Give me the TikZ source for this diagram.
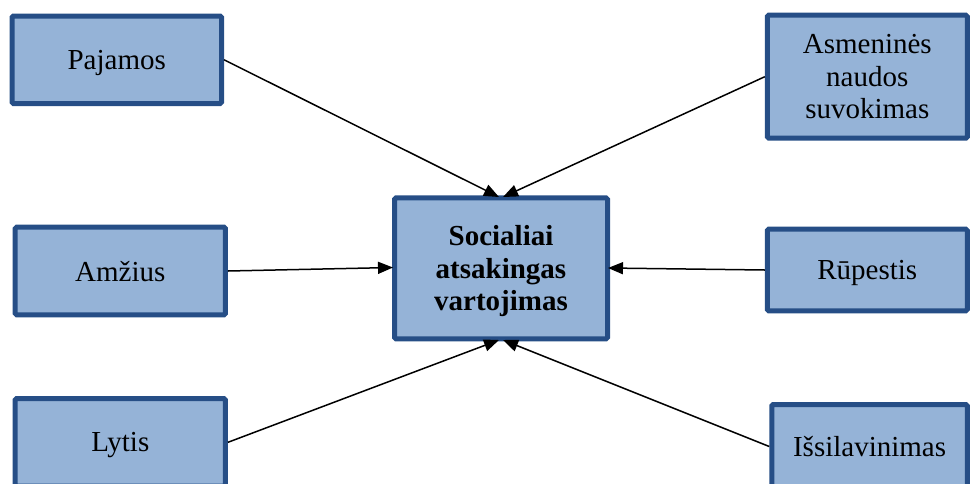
\documentclass[tikz,border=0pt]{standalone}
\usepackage{fontspec}
\setmainfont{Liberation Serif}
\usetikzlibrary{arrows.meta}
\definecolor{boxfill}{HTML}{95B3D7}
\definecolor{boxline}{HTML}{264E86}
\tikzset{
  factor/.style={draw=boxline, fill=boxfill, line width=5pt, rounded corners=1.5pt,
    align=center, inner sep=0pt, text depth=0pt,
    font=\fontsize{29pt}{32.5pt}\selectfont},
  link/.style={line width=1.5pt, -{Triangle[length=15pt,width=12pt]}}
}
\begin{document}
\begin{tikzpicture}[x=1pt, y=-1pt]
  \useasboundingbox (0,0) rectangle (970,483);
  % factor boxes
  \node[factor, minimum width=209.5pt, minimum height=87.5pt] (paj) at (116.75,59.75) {Pajamos};
  \node[factor, minimum width=200pt, minimum height=123pt] (asm) at (867.3,76.7) {Asmeninės\\naudos\\suvokimas};
  \node[factor, minimum width=210.3pt, minimum height=87.6pt] (amz) at (120.3,271) {Amžius};
  \node[factor, minimum width=200pt, minimum height=81.6pt] (rup) at (867.3,270) {Rūpestis};
  \node[factor, minimum width=210.3pt, minimum height=87.6pt] (lyt) at (120.3,442.3) {Lytis};
  \node[factor, minimum width=195.7pt, minimum height=84pt] (isi) at (869.6,446.5) {Išsilavinimas};
  % central outcome
  \node[factor, minimum width=213pt, minimum height=141pt, font=\fontsize{29pt}{32.5pt}\selectfont\bfseries] (soc) at (501,268.3) {Socialiai\\atsakingas\\vartojimas};
  % arrow tips on the central box
  \coordinate (tnw) at (499,197);
  \coordinate (tne) at (503,197);
  \coordinate (tw) at (393,267.5);
  \coordinate (te) at (608,268);
  \coordinate (tsw) at (499,340);
  \coordinate (tse) at (503,340);
  % connectors
  \draw[link] (paj.east) -- (tnw);
  \draw[link] (asm.west) -- (tne);
  \draw[link] (amz.east) -- (tw);
  \draw[link] (rup.west) -- (te);
  \draw[link] (lyt.east) -- (tsw);
  \draw[link] (isi.west) -- (tse);
\end{tikzpicture}
\end{document}
